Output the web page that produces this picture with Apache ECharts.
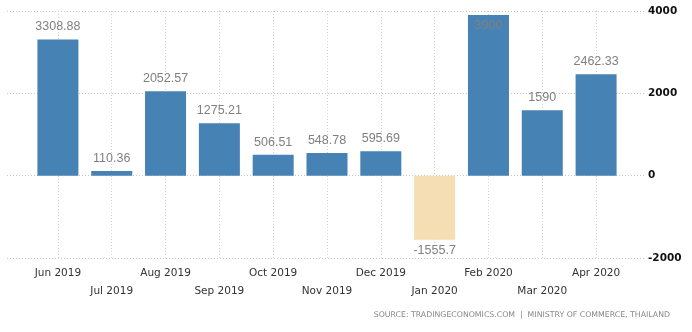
<!DOCTYPE html>
<html><head><meta charset="utf-8">
<script src="https://cdn.jsdelivr.net/npm/echarts@6/dist/echarts.min.js"></script>
<style>html,body{margin:0;padding:0;background:#fff}#c{width:692px;height:332px}</style>
</head><body><div id="c"></div>
<script>
const categories = ['Jun 2019','Jul 2019','Aug 2019','Sep 2019','Oct 2019','Nov 2019','Dec 2019','Jan 2020','Feb 2020','Mar 2020','Apr 2020'];
const values = [3308.88, 110.36, 2052.57, 1275.21, 506.51, 548.78, 595.69, -1555.7, 3900, 1590, 2462.33];
const yTicks = [-2000, 0, 2000, 4000];
const sourceText = 'SOURCE: TRADINGECONOMICS.COM  |  MINISTRY OF COMMERCE, THAILAND';

const chart = echarts.init(document.getElementById('c'));
const barData = values.map((v, i) => {
  const d = { value: v, itemStyle: { color: v < 0 ? '#f5deb3' : '#4682b4' } };
  if (v > 3800) d.label = { position: 'insideTop', distance: 4 };
  if (v < 0) d.label = { position: 'bottom', distance: 4 };
  return d;
});
chart.setOption({
  animation: false,
  grid: [
    { left: 7, right: 47, top: 11, bottom: 74 },
    { left: 31, right: 69, top: 11, bottom: 74 }
  ],
  xAxis: [
    { gridIndex: 0, type: 'value', show: false, min: 0, max: 1 },
    { gridIndex: 1, type: 'category', data: categories,
      axisLine: { show: false }, axisTick: { show: false }, splitLine: { show: false },
      axisLabel: { interval: 0, margin: 6, color: '#333', fontFamily: 'DejaVu Sans', fontSize: 10.5, lineHeight: 18,
        formatter: (v, i) => (i % 2 ? '\n' + v : v) } }
  ],
  yAxis: [
    { gridIndex: 0, type: 'value', position: 'right', min: yTicks[0], max: yTicks[yTicks.length - 1], interval: 2000,
      axisLine: { show: false }, axisTick: { show: false },
      axisLabel: { margin: 3, color: '#111', fontFamily: 'DejaVu Sans', fontSize: 10.5, fontWeight: 'bold',
        formatter: v => String(v) },
      splitLine: { show: true, lineStyle: { color: '#c8c8c8', type: [1, 2], width: 1 } } },
    { gridIndex: 1, type: 'value', show: false, min: yTicks[0], max: yTicks[yTicks.length - 1], interval: 2000,
      splitLine: { show: false } }
  ],
  series: [
    { type: 'line', xAxisIndex: 1, yAxisIndex: 1, data: [], z: 1, silent: true,
      markLine: { z: 1, silent: true, symbol: ['none', 'none'], label: { show: false },
        lineStyle: { color: '#d0d0d0', type: [1, 2], width: 1 },
        data: categories.map(c => ({ xAxis: c })) } },
    { type: 'bar', xAxisIndex: 1, yAxisIndex: 1, z: 2, barWidth: 41, data: barData,
      label: { show: true, position: 'top', distance: 6, color: '#808080', fontFamily: 'Liberation Sans', fontSize: 12.5,
        formatter: p => String(p.value) } }
  ],
  graphic: [
    { type: 'text', right: 22, top: 311, style: { text: sourceText, fill: '#888', fontFamily: 'DejaVu Sans', fontSize: 7.8 } }
  ]
});
</script></body></html>
